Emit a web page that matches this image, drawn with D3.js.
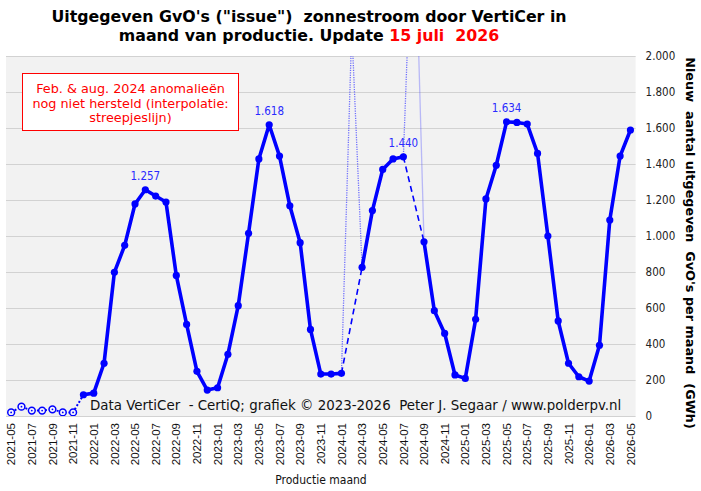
<!DOCTYPE html>
<html>
<head>
<meta charset="utf-8">
<script src="https://cdn.jsdelivr.net/npm/d3@7"></script>
<style>
  body { margin: 0; background: #fff; }
  svg { display: block; font-family: "DejaVu Sans Condensed", "DejaVu Sans", Verdana, sans-serif; }
  svg text { white-space: pre; }
</style>
</head>
<body>
<div id="chart"></div>
<script>
// production months (x categories)
const months = [
  '2021-05','2021-06','2021-07','2021-08','2021-09','2021-10','2021-11','2021-12',
  '2022-01','2022-02','2022-03','2022-04','2022-05','2022-06','2022-07','2022-08','2022-09','2022-10','2022-11','2022-12',
  '2023-01','2023-02','2023-03','2023-04','2023-05','2023-06','2023-07','2023-08','2023-09','2023-10','2023-11','2023-12',
  '2024-01','2024-02','2024-03','2024-04','2024-05','2024-06','2024-07','2024-08','2024-09','2024-10','2024-11','2024-12',
  '2025-01','2025-02','2025-03','2025-04','2025-05','2025-06','2025-07','2025-08','2025-09','2025-10','2025-11','2025-12',
  '2026-01','2026-02','2026-03','2026-04','2026-05'
];

// issued GvO's per month (GWh), null = anomaly month
const gvo = [
  20, 52, 30, 30, 37, 20, 20, 118,
  127, 293, 798, 948, 1178, 1257, 1222, 1189, 781, 509, 248, 144,
  157, 343, 613, 1015, 1428, 1618, 1444, 1168, 963, 481, 233, 233,
  237, null, 826, 1141, 1370, 1428, 1440, null, 968, 585, 459, 228,
  209, 537, 1206, 1393, 1634, 1631, 1622, 1459, 1000, 528, 293, 218,
  194, 393, 1089, 1444, 1589
];

// anomalous raw values (not yet corrected)
const anomalyMonths = ['2024-02', '2024-08'];
const anomalyValues = [2150, 3000];

// months before the first complete month (hollow markers)
const prelimMonths = ['2021-05','2021-06','2021-07','2021-08','2021-09','2021-10','2021-11'];

// labelled peaks
const peakMonths = ['2022-06', '2023-06', '2024-07', '2025-05'];

const yTicks = [0, 200, 400, 600, 800, 1000, 1200, 1400, 1600, 1800, 2000];

const titleLine1 = 'Uitgegeven GvO\'s ("issue")  zonnestroom door VertiCer in';
const titleLine2 = 'maand van productie. Update ';
const titleDate = '15 juli  2026';
const noteLines = ['Feb. & aug. 2024 anomalieën', 'nog niet hersteld (interpolatie:', 'streepjeslijn)'];
const creditText = 'Data VertiCer  - CertiQ; grafiek © 2023-2026  Peter J. Segaar / www.polderpv.nl';

function init() {
  const width = 701, height = 491;
  const plot = { left: 6, right: 635.6, top: 56, bottom: 416 };
  const wide = '"DejaVu Sans", Verdana, sans-serif';

  const nl = d3.formatLocale({ decimal: ',', thousands: '.', grouping: [3], currency: ['€', ''] });
  const fmt = nl.format(',d');

  const svg = d3.select('#chart').append('svg')
    .attr('width', width)
    .attr('height', height);

  const x = d3.scaleBand()
    .domain(months)
    .range([plot.left, plot.right]);
  const cx = m => x(m) + x.bandwidth() / 2;

  const y = d3.scaleLinear()
    .domain([0, 2000])
    .range([plot.bottom, plot.top]);

  const data = months.map((m, i) => ({ m: m, v: gvo[i] }));

  // plot background
  svg.append('rect')
    .attr('x', plot.left)
    .attr('y', plot.top)
    .attr('width', plot.right - plot.left)
    .attr('height', plot.bottom - plot.top)
    .attr('fill', '#f2f2f2');

  svg.append('clipPath').attr('id', 'clip')
    .append('rect')
    .attr('x', plot.left)
    .attr('y', plot.top)
    .attr('width', plot.right - plot.left)
    .attr('height', plot.bottom - plot.top);

  // grid lines
  svg.append('g')
    .selectAll('line')
    .data(yTicks)
    .enter().append('line')
    .attr('x1', plot.left)
    .attr('x2', plot.right)
    .attr('y1', d => y(d) + 0.5)
    .attr('y2', d => y(d) + 0.5)
    .attr('stroke', '#d2d2d2')
    .attr('stroke-width', 1);

  // right axis
  const yAxis = d3.axisRight(y)
    .tickValues(yTicks)
    .tickFormat(fmt)
    .tickSize(0)
    .tickPadding(10);
  const ya = svg.append('g')
    .attr('transform', `translate(${plot.right},0)`)
    .call(yAxis);
  ya.select('.domain').remove();
  ya.selectAll('text')
    .style('font-family', '"DejaVu Sans Condensed", "DejaVu Sans", sans-serif')
    .style('font-size', '11.5px')
    .attr('fill', '#222');

  // bottom axis (every second month)
  const xAxis = d3.axisBottom(x)
    .tickValues(months.filter((m, i) => i % 2 === 0))
    .tickSize(0)
    .tickPadding(0);
  const xa = svg.append('g')
    .attr('transform', `translate(0,${plot.bottom})`)
    .call(xAxis);
  xa.select('.domain').remove();
  xa.selectAll('text')
    .attr('transform', 'rotate(-90)')
    .attr('x', -7)
    .attr('y', 0)
    .attr('dy', '0.36em')
    .attr('text-anchor', 'end')
    .style('font-size', '11.5px')
    .attr('fill', '#111');

  // credit text inside plot
  svg.append('text')
    .attr('x', 90)
    .attr('y', 410)
    .style('font-family', wide)
    .style('font-size', '13.4px')
    .attr('fill', '#111')
    .text(creditText);

  const gPlot = svg.append('g').attr('clip-path', 'url(#clip)');

  // raw data around the anomalies (thin dotted)
  anomalyMonths.forEach((am, k) => {
    const i = months.indexOf(am);
    const pts = [
      [cx(months[i - 1]), y(gvo[i - 1])],
      [cx(am), y(anomalyValues[k])],
      [cx(months[i + 1]), y(gvo[i + 1])]
    ];
    gPlot.append('path')
      .attr('d', d3.line()(pts.slice(0, 2)))
      .attr('fill', 'none')
      .attr('stroke', '#4d4dff')
      .attr('stroke-width', 1.3)
      .attr('stroke-dasharray', '1.2,1.2')
      .attr('opacity', 0.8);
    gPlot.append('path')
      .attr('d', d3.line()(pts.slice(1)))
      .attr('fill', 'none')
      .attr('stroke', '#4d4dff')
      .attr('stroke-width', 1.3)
      .attr('stroke-dasharray', k === 0 ? '1.2,1.2' : null)
      .attr('opacity', k === 0 ? 0.8 : 0.35);

    // interpolation (dashed)
    gPlot.append('path')
      .attr('d', d3.line()([pts[0], pts[2]]))
      .attr('fill', 'none')
      .attr('stroke', '#0000ff')
      .attr('stroke-width', 1.6)
      .attr('stroke-dasharray', '6,4');
  });

  const line = d3.line()
    .defined(d => d.v !== null)
    .x(d => cx(d.m))
    .y(d => y(d.v));

  // preliminary months, dotted
  const nPre = prelimMonths.length;
  gPlot.append('path')
    .datum(data.slice(0, nPre + 1))
    .attr('d', line)
    .attr('fill', 'none')
    .attr('stroke', '#0000ff')
    .attr('stroke-width', 2)
    .attr('stroke-dasharray', '2,2');

  // main series
  const main = data.slice(nPre);
  gPlot.append('path')
    .datum(main)
    .attr('d', line)
    .attr('fill', 'none')
    .attr('stroke', '#0000ff')
    .attr('stroke-width', 3.6)
    .attr('stroke-linejoin', 'round');

  gPlot.append('g')
    .selectAll('circle')
    .data(main.filter(d => d.v !== null))
    .enter().append('circle')
    .attr('cx', d => cx(d.m))
    .attr('cy', d => y(d.v))
    .attr('r', 3.6)
    .attr('fill', '#0000ff');

  // hollow markers
  const pre = gPlot.append('g')
    .selectAll('g')
    .data(data.slice(0, nPre))
    .enter().append('g');
  pre.append('circle')
    .attr('cx', d => cx(d.m))
    .attr('cy', d => y(d.v))
    .attr('r', 3.4)
    .attr('fill', '#f4f4ff')
    .attr('stroke', '#0000ff')
    .attr('stroke-width', 1.5);
  pre.append('circle')
    .attr('cx', d => cx(d.m))
    .attr('cy', d => y(d.v))
    .attr('r', 0.9)
    .attr('fill', '#0000ff');

  // peak labels
  svg.append('g')
    .selectAll('text')
    .data(data.filter(d => peakMonths.includes(d.m)))
    .enter().append('text')
    .attr('x', d => cx(d.m))
    .attr('y', d => y(d.v) - 10)
    .attr('text-anchor', 'middle')
    .style('font-size', '11.5px')
    .attr('fill', '#2a2aff')
    .text(d => fmt(d.v));

  // annotation box
  svg.append('rect')
    .attr('x', 22.5)
    .attr('y', 73.5)
    .attr('width', 216)
    .attr('height', 57)
    .attr('fill', '#fff')
    .attr('stroke', '#ff0000')
    .attr('stroke-width', 1);
  svg.append('g')
    .selectAll('text')
    .data(noteLines)
    .enter().append('text')
    .attr('x', 130.5)
    .attr('y', (d, i) => 93 + i * 14.5)
    .attr('text-anchor', 'middle')
    .style('font-family', wide)
    .style('font-size', '12.8px')
    .attr('fill', '#ff0000')
    .text(d => d);

  // title
  const title = svg.append('g')
    .style('font-family', wide)
    .style('font-weight', 'bold')
    .style('font-size', '15.8px')
    .attr('text-anchor', 'middle');
  title.append('text')
    .attr('x', 309)
    .attr('y', 22)
    .attr('fill', '#000')
    .text(titleLine1);
  const t2 = title.append('text')
    .attr('x', 309)
    .attr('y', 41)
    .attr('fill', '#000');
  t2.append('tspan').text(titleLine2);
  t2.append('tspan').attr('fill', '#ff0000').text(titleDate);

  // right axis title
  svg.append('text')
    .attr('transform', `translate(686,243) rotate(90)`)
    .attr('text-anchor', 'middle')
    .style('font-family', wide)
    .style('font-weight', 'bold')
    .style('font-size', '12.8px')
    .attr('fill', '#000')
    .text("Nieuw  aantal uitgegeven  GvO's per maand  (GWh)");

  // x axis title
  svg.append('text')
    .attr('x', 321)
    .attr('y', 483.5)
    .attr('text-anchor', 'middle')
    .style('font-size', '12px')
    .attr('fill', '#111')
    .text('Productie maand');
}

window.onload = init;
</script>
</body>
</html>
